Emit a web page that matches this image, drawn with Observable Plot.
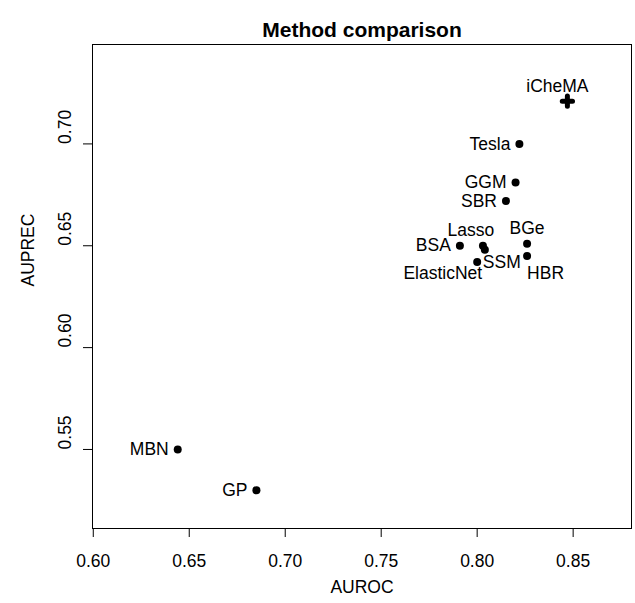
<!DOCTYPE html>
<html>
<head>
<meta charset="utf-8">
<script src="https://cdn.jsdelivr.net/npm/d3@7"></script>
<script src="https://cdn.jsdelivr.net/npm/@observablehq/plot@0.6"></script>
<style>
  html, body { margin: 0; padding: 0; background: #fff; }
</style>
</head>
<body>
<div id="chart"></div>
<script>
// ---- data ----
const methods = ["iCheMA", "Tesla", "GGM", "SBR", "BGe", "HBR", "Lasso", "SSM", "BSA", "ElasticNet", "MBN", "GP"];
const auroc   = [0.847, 0.822, 0.820, 0.815, 0.826, 0.826, 0.803, 0.804, 0.791, 0.800, 0.644, 0.685];
const auprec  = [0.721, 0.700, 0.681, 0.672, 0.651, 0.645, 0.650, 0.648, 0.650, 0.642, 0.550, 0.530];
const xTicks = [0.60, 0.65, 0.70, 0.75, 0.80, 0.85];
const yTicks = [0.55, 0.60, 0.65, 0.70];
const xLimits = [0.61, 0.87];
const yLimits = [0.52, 0.74];
const title = "Method comparison";
const xLabel = "AUROC";
const yLabel = "AUPREC";
const highlighted = "iCheMA";

// ---- build table ----
const rows = methods.map((m, i) => ({method: m, auroc: auroc[i], auprec: auprec[i]}));
const pad = (l) => { const d = (l[1] - l[0]) * 0.04; return [l[0] - d, l[1] + d]; };

const leftLabelled = ["Tesla", "GGM", "SBR", "BSA", "MBN", "GP"];
const fs = 17.5;
const font = "'Liberation Sans', Arial, Helvetica, sans-serif";
const sel = (names) => rows.filter(r => names.includes(r.method));

const chart = Plot.plot({
  width: 635,
  height: 603,
  marginLeft: 92,
  marginRight: 4,
  marginTop: 44,
  marginBottom: 75,
  style: {fontFamily: font, background: "#fff", color: "#000", fontSize: fs + "px"},
  x: {domain: pad(xLimits), axis: null},
  y: {domain: pad(yLimits), axis: null},
  marks: [
    Plot.frame({stroke: "#000", strokeWidth: 1}),
    Plot.axisX({ticks: xTicks, tickSize: 9, tickPadding: 17, tickFormat: d3.format(".2f"), fontSize: fs, label: null, stroke: "#000"}),
    Plot.axisY({ticks: yTicks, tickSize: 9, tickFormat: () => "", label: null, stroke: "#000"}),
    Plot.text(yTicks, {frameAnchor: "left", y: d => d, text: d => d3.format(".2f")(d), rotate: -90, dx: -27, fontSize: fs, fill: "#000"}),
    Plot.text([xLabel], {frameAnchor: "bottom", dy: 64, fontSize: fs, fill: "#000"}),
    Plot.text([yLabel], {frameAnchor: "left", rotate: -90, dx: -64, fontSize: fs, fill: "#000"}),
    Plot.text([title], {frameAnchor: "top", dy: -22, fontSize: 21, fontWeight: "bold", fill: "#000"}),
    // points
    Plot.dot(rows.filter(r => r.method !== highlighted), {x: "auroc", y: "auprec", r: 4, fill: "#000", stroke: "none"}),
    Plot.dot(rows.filter(r => r.method === highlighted), {x: "auroc", y: "auprec", symbol: "plus", r: 3.4, stroke: "#000", strokeWidth: 5, strokeLinecap: "round"}),
    // labels
    Plot.text(sel(leftLabelled), {x: "auroc", y: "auprec", text: "method", textAnchor: "end", dx: -9, fontSize: fs, fill: "#000"}),
    Plot.text(sel(["iCheMA"]), {x: "auroc", y: "auprec", text: "method", dx: -10, dy: -15, fontSize: fs, fill: "#000"}),
    Plot.text(sel(["Lasso"]), {x: "auroc", y: "auprec", text: "method", dx: -12, dy: -15, fontSize: fs, fill: "#000"}),
    Plot.text(sel(["BGe"]), {x: "auroc", y: "auprec", text: "method", dx: 0, dy: -15, fontSize: fs, fill: "#000"}),
    Plot.text(sel(["SSM"]), {x: "auroc", y: "auprec", text: "method", textAnchor: "start", dx: -2, dy: 13, fontSize: fs, fill: "#000"}),
    Plot.text(sel(["HBR"]), {x: "auroc", y: "auprec", text: "method", textAnchor: "start", dx: 0, dy: 17, fontSize: fs, fill: "#000"}),
    Plot.text(sel(["ElasticNet"]), {x: "auroc", y: "auprec", text: "method", textAnchor: "end", dx: 5, dy: 11, fontSize: fs, fill: "#000"})
  ]
});
document.getElementById("chart").appendChild(chart);
</script>
</body>
</html>
